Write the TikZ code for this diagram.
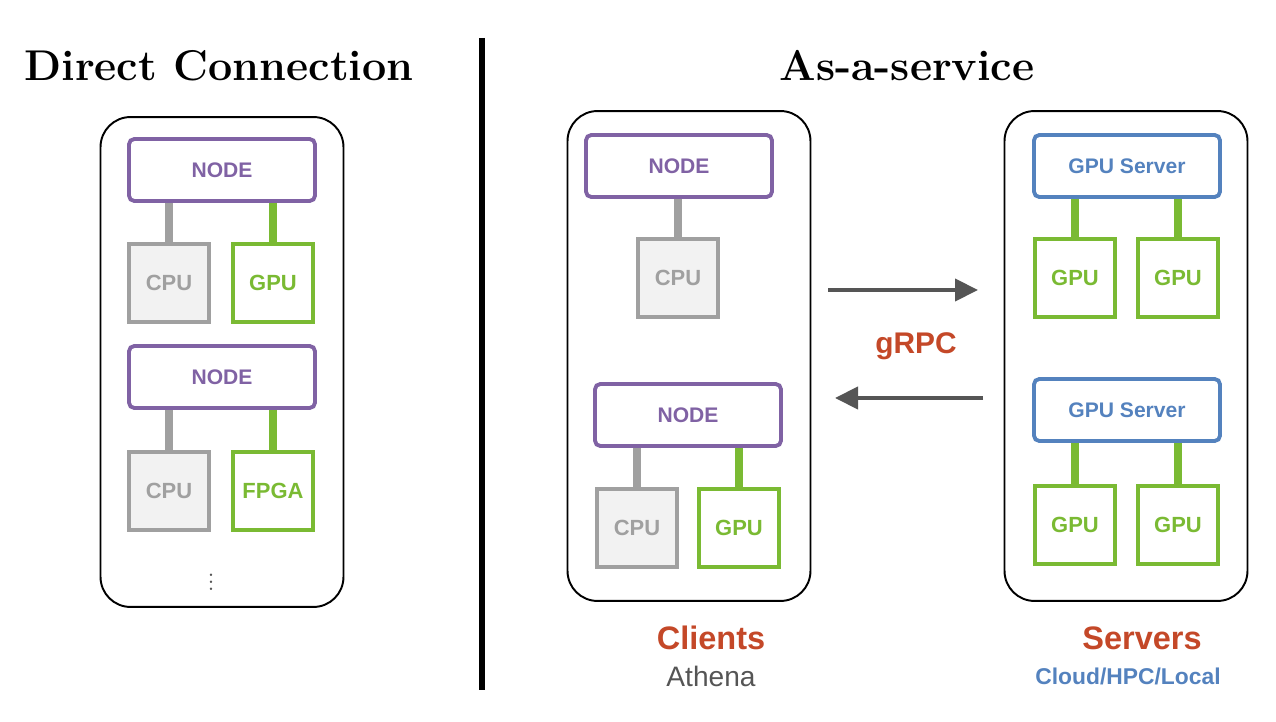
\documentclass[tikz,border=0pt]{standalone}
\usepackage{fontspec}
\setmainfont{Latin Modern Roman}
\newfontfamily\boxfont{Liberation Sans}
\usetikzlibrary{arrows.meta, positioning}
\definecolor{nodepurple}{RGB}{128, 98, 164}
\definecolor{gpugreen}{RGB}{122, 186, 51}
\definecolor{cpugray}{RGB}{160, 160, 160}
\definecolor{cpufill}{RGB}{242, 242, 242}
\definecolor{serverblue}{RGB}{84, 130, 190}
\definecolor{labelred}{RGB}{196, 72, 40}
\definecolor{arrowgray}{RGB}{85, 85, 85}

\begin{document}
\begin{tikzpicture}[
    x=0.02cm, y=-0.02cm,
    outer/.style={
        rectangle,
        rounded corners=0.6cm,
        draw=black,
        line width=1.1pt,
        minimum width=4.86cm,
        minimum height=9.8cm
    },
    hostnode/.style={
        rectangle,
        rounded corners=3pt,
        draw=nodepurple,
        line width=2.2pt,
        minimum width=3.72cm,
        minimum height=1.24cm,
        text=nodepurple,
        font=\boxfont\bfseries\fontsize{12}{13}\selectfont
    },
    server/.style={
        hostnode,
        draw=serverblue,
        text=serverblue
    },
    cpu/.style={
        rectangle,
        draw=cpugray,
        fill=cpufill,
        line width=2.2pt,
        minimum width=1.6cm,
        minimum height=1.56cm,
        text=cpugray,
        font=\boxfont\bfseries\fontsize{12.5}{13}\selectfont
    },
    gpu/.style={
        cpu,
        draw=gpugreen,
        fill=white,
        text=gpugreen
    },
    cpulink/.style={draw=cpugray, line width=4.2pt},
    gpulink/.style={draw=gpugreen, line width=4.2pt},
    arrow/.style={
        -{Triangle[length=0.46cm, width=0.44cm]},
        line width=2.4pt,
        arrowgray
    },
    title/.style={
        font=\bfseries\fontsize{24.5}{27}\selectfont
    },
    caption/.style={
        font=\boxfont\bfseries\fontsize{18.5}{21}\selectfont,
        text=labelred
    }
]
\useasboundingbox (0,0) rectangle (1276,722);

% Titles and divider
\node[title] (t1) at (219,66) {Direct Connection};
\node[title] (t2) at (907,66) {As-a-service};
\coordinate (dtop) at (482,38);
\coordinate (dbot) at (482,690);
\draw[line width=3.4pt] (dtop) -- (dbot);

% Direct connection
\node[outer] (dc) at (222,362) {};
\node[hostnode] (dnode1) at (222,170) {NODE};
\node[cpu] (dcpu1) at (169,283) {CPU};
\node[gpu] (dgpu1) at (273,283) {GPU};
\node[hostnode] (dnode2) at (222,377) {NODE};
\node[cpu] (dcpu2) at (169,491) {CPU};
\node[gpu] (dfpga) at (273,491) {FPGA};
\node[text=arrowgray, inner sep=0pt, font=\fontsize{17}{17}\selectfont] (ddots) at (211,577) {$\vdots$};
\draw[cpulink] (dnode1.south -| dcpu1) -- (dcpu1.north);
\draw[gpulink] (dnode1.south -| dgpu1) -- (dgpu1.north);
\draw[cpulink] (dnode2.south -| dcpu2) -- (dcpu2.north);
\draw[gpulink] (dnode2.south -| dfpga) -- (dfpga.north);

% Clients
\node[outer] (cl) at (689,356) {};
\node[hostnode] (cnode1) at (679,166) {NODE};
\node[cpu] (ccpu1) at (678,278) {CPU};
\node[hostnode] (cnode2) at (688,415) {NODE};
\node[cpu] (ccpu2) at (637,528) {CPU};
\node[gpu] (cgpu2) at (739,528) {GPU};
\draw[cpulink] (cnode1.south -| ccpu1) -- (ccpu1.north);
\draw[cpulink] (cnode2.south -| ccpu2) -- (ccpu2.north);
\draw[gpulink] (cnode2.south -| cgpu2) -- (cgpu2.north);

% Servers
\node[outer] (sv) at (1126,356) {};
\node[server] (srv1) at (1127,166) {GPU Server};
\node[gpu] (sgpu1) at (1075,278) {GPU};
\node[gpu] (sgpu2) at (1178,278) {GPU};
\node[server] (srv2) at (1127,410) {GPU Server};
\node[gpu] (sgpu3) at (1075,525) {GPU};
\node[gpu] (sgpu4) at (1178,525) {GPU};
\draw[gpulink] (srv1.south -| sgpu1) -- (sgpu1.north);
\draw[gpulink] (srv1.south -| sgpu2) -- (sgpu2.north);
\draw[gpulink] (srv2.south -| sgpu3) -- (sgpu3.north);
\draw[gpulink] (srv2.south -| sgpu4) -- (sgpu4.north);

% gRPC arrows
\coordinate (ra) at (828,290);
\coordinate (rb) at (978,290);
\coordinate (la) at (983,398);
\coordinate (lb) at (835,398);
\draw[arrow] (ra) -- (rb);
\draw[arrow] (la) -- (lb);
\node[caption, font=\boxfont\bfseries\fontsize{17}{20}\selectfont] (grpc) at (916,346) {gRPC};

% Captions
\node[caption] (clients) at (711,638) {Clients};
\node[font=\boxfont\fontsize{16}{18}\selectfont, text=arrowgray] (athena) at (711,676) {Athena};
\node[caption] (servers) at (1142,638) {Servers};
\node[font=\boxfont\bfseries\fontsize{13}{15}\selectfont, text=serverblue] (cloud) at (1128,676) {Cloud/HPC/Local};

\end{tikzpicture}
\end{document}
